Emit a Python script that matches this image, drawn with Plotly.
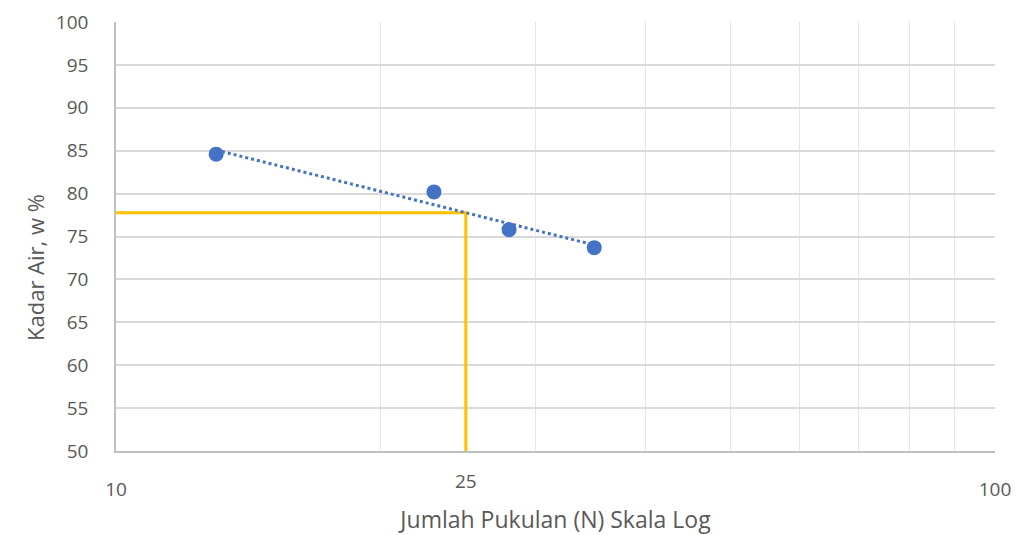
import numpy as np
import plotly.graph_objects as go

# Data
blows = [13, 23, 28, 35]
water_content = [84.6, 80.2, 75.8, 73.7]
n_ref = 25
y_ticks = [50, 55, 60, 65, 70, 75, 80, 85, 90, 95, 100]
x_grid = [10, 20, 30, 40, 50, 60, 70, 80, 90, 100]
x_ticktext = ["10", "", "", "", "", "", "", "", "", "100"]

# Logarithmic trendline (least squares in ln x)
b, a = np.polyfit(np.log(blows), water_content, 1)
trend_x = np.linspace(min(blows), max(blows), 60)
trend_y = a + b * np.log(trend_x)
ll = a + b * np.log(n_ref)

blue = "#4472C4"
gold = "#FFC000"
txt = "#595959"
font = "Open Sans, Liberation Sans, sans-serif"

fig = go.Figure()
fig.add_trace(go.Scatter(x=[10, n_ref, n_ref], y=[ll, ll, 50], mode="lines",
                         line=dict(color=gold, width=3), hoverinfo="skip"))
fig.add_trace(go.Scatter(x=trend_x, y=trend_y, mode="lines",
                         line=dict(color=blue, width=3, dash="dot")))
fig.add_trace(go.Scatter(x=blows, y=water_content, mode="markers",
                         marker=dict(color=blue, size=15)))

fig.add_annotation(x=np.log10(n_ref), y=0, xref="x", yref="paper", text=str(n_ref),
                   showarrow=False, yanchor="top", yshift=-15,
                   font=dict(family=font, size=19, color=txt))
# y-axis title (centred on the full chart height, as in the original)
fig.add_annotation(x=0, y=0, xref="paper", yref="paper", text="Kadar Air, w %",
                   showarrow=False, textangle=-90, xanchor="center", yanchor="middle",
                   xshift=-81, yshift=183,
                   font=dict(family=font, size=22, color=txt))

fig.update_layout(
    width=1017, height=535,
    margin=dict(l=116, r=22, t=22, b=84),
    plot_bgcolor="white", paper_bgcolor="white",
    showlegend=False,
    font=dict(family=font, color=txt, size=19),
)
fig.update_xaxes(type="log", range=[1, 2], tickvals=x_grid, ticktext=x_ticktext,
                 automargin=False,
                 tickfont=dict(size=19, color=txt),
                 showgrid=True, gridcolor="#e6e6e6", gridwidth=1,
                 showline=True, linecolor="#bfbfbf", linewidth=1.5,
                 ticks="", ticklabelstandoff=20,
                 title=dict(text="Jumlah Pukulan (N) Skala Log", standoff=13,
                            font=dict(size=23, color=txt)),
                 zeroline=False)
fig.update_yaxes(range=[50, 100], tickvals=y_ticks,
                 automargin=False,
                 tickfont=dict(size=19, color=txt),
                 showgrid=True, gridcolor="#d9d9d9", gridwidth=1.5,
                 showline=True, linecolor="#bfbfbf", linewidth=1.5,
                 ticks="", ticklabelstandoff=22,
                 zeroline=False)

fig.write_html("out.html")
